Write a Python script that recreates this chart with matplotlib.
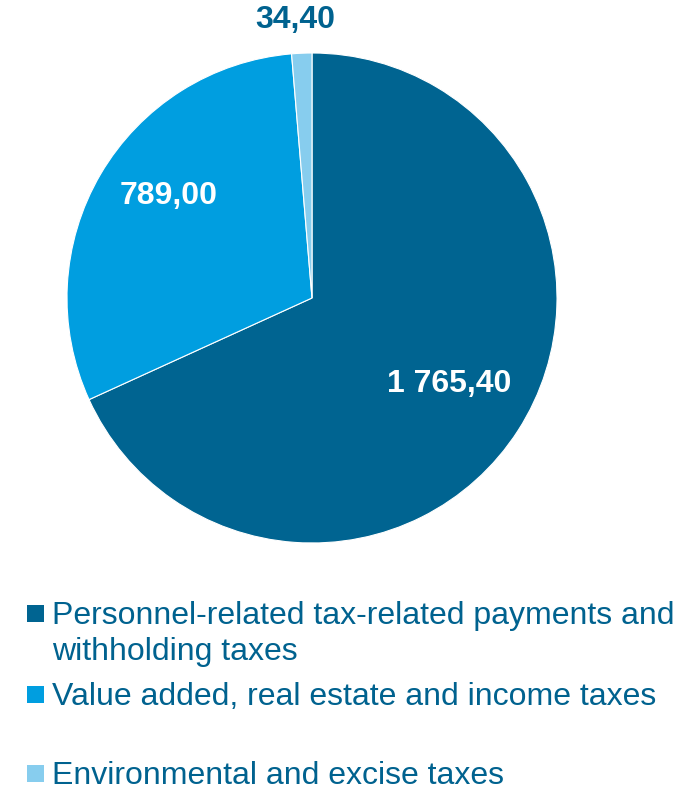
import numpy as np
import matplotlib
matplotlib.use("Agg")
import matplotlib.pyplot as plt
from matplotlib.patches import Rectangle

plt.rcParams['font.family'] = ['Liberation Sans', 'DejaVu Sans']

categories = [
    "Personnel-related tax-related payments and\nwithholding taxes",
    "Value added, real estate and income taxes",
    "Environmental and excise taxes",
]
values = [1765.40, 789.00, 34.40]
value_labels = ["1 765,40", "789,00", "34,40"]
colors = ['#006491', '#009ee0', '#87cdee']
text_color = '#00628f'

W, H = 685, 788
fig = plt.figure(figsize=(W / 100, H / 100), dpi=100)

# pie centre (312, 298) px, radius 245 px
cx, cy, r = 312, 298, 245
ax = fig.add_axes([(cx - r) / W, 1 - (cy + r) / H, 2 * r / W, 2 * r / H])
wedges, _ = ax.pie(values, colors=colors, startangle=90, counterclock=False,
                   radius=1, wedgeprops=dict(linewidth=0.8, edgecolor='white'))
ax.set_xlim(-1, 1)
ax.set_ylim(-1, 1)
ax.set_aspect('equal')
ax.axis('off')

# value labels
dists = [0.66, 0.72, 1.135]
ang_shift = [0.5, -5.0, 1.0]
lab_colors = ['white', 'white', text_color]
for w, lab, d, da, c in zip(wedges, value_labels, dists, ang_shift, lab_colors):
    ang = np.deg2rad((w.theta1 + w.theta2) / 2 + da)
    ax.text(d * np.cos(ang), d * np.sin(ang), lab, ha='center', va='center',
            fontsize=23, fontweight='bold', color=c, clip_on=False)

# legend, drawn by hand to keep the uneven spacing
baselines = [624, 705, 784]
line_step = 36
for cat, col, yb in zip(categories, colors, baselines):
    fig.patches.append(Rectangle((27 / W, 1 - (yb - 2) / H), 17 / W, 17 / H,
                                 transform=fig.transFigure, facecolor=col,
                                 edgecolor='none'))
    for i, line in enumerate(cat.split("\n")):
        fig.text(52 / W, 1 - (yb + i * line_step) / H, line, fontsize=23,
                 color=text_color, ha='left', va='baseline')

fig.savefig("out.png", dpi=100)
